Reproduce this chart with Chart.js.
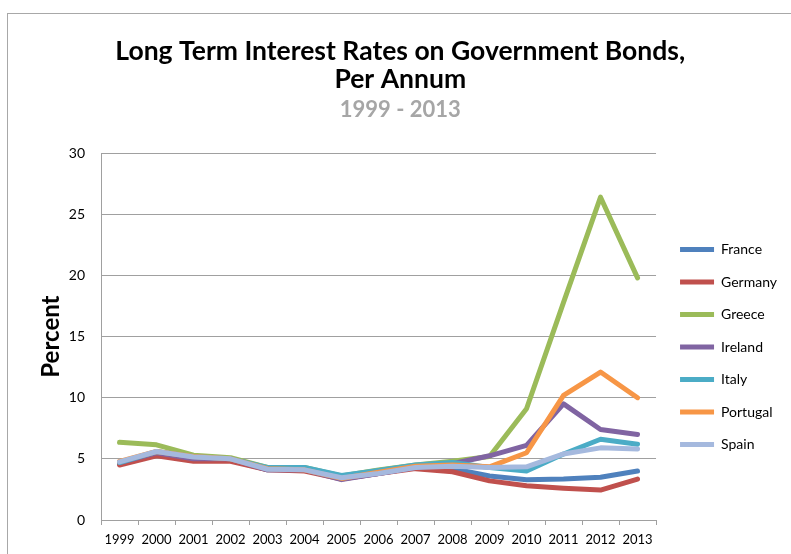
<!DOCTYPE html>
<html>
<head>
<meta charset="utf-8">
<script src="https://cdn.jsdelivr.net/npm/chart.js@4"></script>
<style>
  html, body { margin: 0; padding: 0; background: #fff; width: 791px; height: 554px; overflow: hidden; }
  #frame { position: absolute; left: 7px; top: 13px; width: 860px; height: 600px; border: 1px solid #a8a8a8; box-sizing: border-box; }
  #wrap { position: absolute; left: 0; top: 0; width: 791px; height: 554px; }
</style>
</head>
<body>
<div id="frame"></div>
<div id="wrap"><canvas id="c" width="791" height="554"></canvas></div>
<script>
const years = ['1999','2000','2001','2002','2003','2004','2005','2006','2007','2008','2009','2010','2011','2012','2013'];
const france   = [4.6, 5.4, 4.9, 4.9, 4.1, 4.1, 3.4, 3.8, 4.3, 4.2, 3.6, 3.3, 3.35, 3.5, 4.0];
const germany  = [4.5, 5.25, 4.8, 4.8, 4.1, 4.0, 3.35, 3.8, 4.2, 3.95, 3.2, 2.8, 2.6, 2.45, 3.35];
const greece   = [6.35, 6.15, 5.3, 5.1, 4.3, 4.3, 3.6, 4.1, 4.5, 4.8, 5.2, 9.1, 17.8, 26.4, 19.8];
const ireland  = [4.7, 5.5, 5.0, 5.0, 4.1, 4.1, 3.3, 3.8, 4.3, 4.6, 5.25, 6.1, 9.5, 7.4, 7.0];
const italy    = [4.7, 5.6, 5.2, 5.0, 4.3, 4.3, 3.65, 4.05, 4.5, 4.7, 4.3, 4.0, 5.4, 6.6, 6.2];
const portugal = [4.8, 5.6, 5.2, 5.0, 4.2, 4.1, 3.4, 3.9, 4.4, 4.5, 4.35, 5.5, 10.2, 12.1, 10.0];
const spain    = [4.75, 5.6, 5.15, 5.0, 4.15, 4.1, 3.45, 3.8, 4.3, 4.4, 4.3, 4.35, 5.4, 5.9, 5.8];
const yTicks = [0, 5, 10, 15, 20, 25, 30];

const series = [
  ['France', france, '#4f81bd'],
  ['Germany', germany, '#c0504d'],
  ['Greece', greece, '#9bbb59'],
  ['Ireland', ireland, '#8064a2'],
  ['Italy', italy, '#4bacc6'],
  ['Portugal', portugal, '#f79646'],
  ['Spain', spain, '#a5b9de']
];

const datasets = series.map((s, i) => ({
  label: s[0],
  data: s[1],
  borderColor: s[2],
  backgroundColor: s[2],
  borderWidth: 5,
  borderCapStyle: 'round',
  borderJoinStyle: 'round',
  pointRadius: 0,
  pointHoverRadius: 0,
  pointStyle: 'line',
  tension: 0,
  fill: false,
  order: series.length - i
}));

const shiftLegend = {
  id: 'shiftLegend',
  afterLayout(chart) {
    const lg = chart.legend;
    if (lg) { lg.left += 5.5; lg.right += 5.5; lg.top += 70; lg.bottom += 70; }
  }
};

new Chart(document.getElementById('c'), {
  type: 'line',
  data: { labels: years, datasets },
  plugins: [shiftLegend],
  options: {
    responsive: false,
    animation: false,
    events: [],
    layout: { padding: { left: 19, right: 9.5, top: 0, bottom: 0 } },
    plugins: {
      title: {
        display: true,
        text: ['Long Term Interest Rates on Government Bonds,', 'Per Annum'],
        color: '#000',
        font: { family: 'Lato', size: 26.5, weight: 'bold', lineHeight: 1.06 },
        padding: { top: 37, bottom: 4 }
      },
      subtitle: {
        display: true,
        text: '1999 - 2013',
        color: '#a6a6a6',
        font: { family: 'Lato', size: 22, weight: 'bold', lineHeight: 1.2 },
        padding: { top: 0, bottom: 29.6 }
      },
      legend: {
        display: true,
        position: 'right',
        align: 'center',
        labels: {
          usePointStyle: true,
          pointStyleWidth: 34,
          boxHeight: 5,
          color: '#000',
          font: { family: 'Lato', size: 14, lineHeight: 1 },
          padding: 18.5,
          sort: (a, b) => a.datasetIndex - b.datasetIndex
        }
      },
      tooltip: { enabled: false }
    },
    scales: {
      x: {
        type: 'category',
        offset: true,
        grid: { offset: true, drawOnChartArea: false, drawTicks: true, tickLength: 5, color: '#a0a0a0', lineWidth: 1 },
        border: { color: '#a0a0a0', width: 1 },
        ticks: { color: '#000', font: { family: 'Lato', size: 13, lineHeight: 1 }, padding: 8, maxRotation: 0, autoSkip: false }
      },
      y: {
        min: 0,
        max: 30,
        afterBuildTicks: (s) => { s.ticks = yTicks.map(v => ({ value: v })); },
        afterFit: (s) => { s.width = 82; },
        grid: { drawTicks: false, color: '#a0a0a0', lineWidth: 1 },
        border: { color: '#a0a0a0', width: 1 },
        ticks: { color: '#000', font: { family: 'Lato', size: 14 }, padding: 16 },
        title: {
          display: true,
          text: 'Percent',
          color: '#000',
          font: { family: 'Lato', size: 24, weight: 'bold', lineHeight: 1.2 },
          padding: { top: 17.5, bottom: 0 }
        }
      }
    }
  }
});
</script>
</body>
</html>
